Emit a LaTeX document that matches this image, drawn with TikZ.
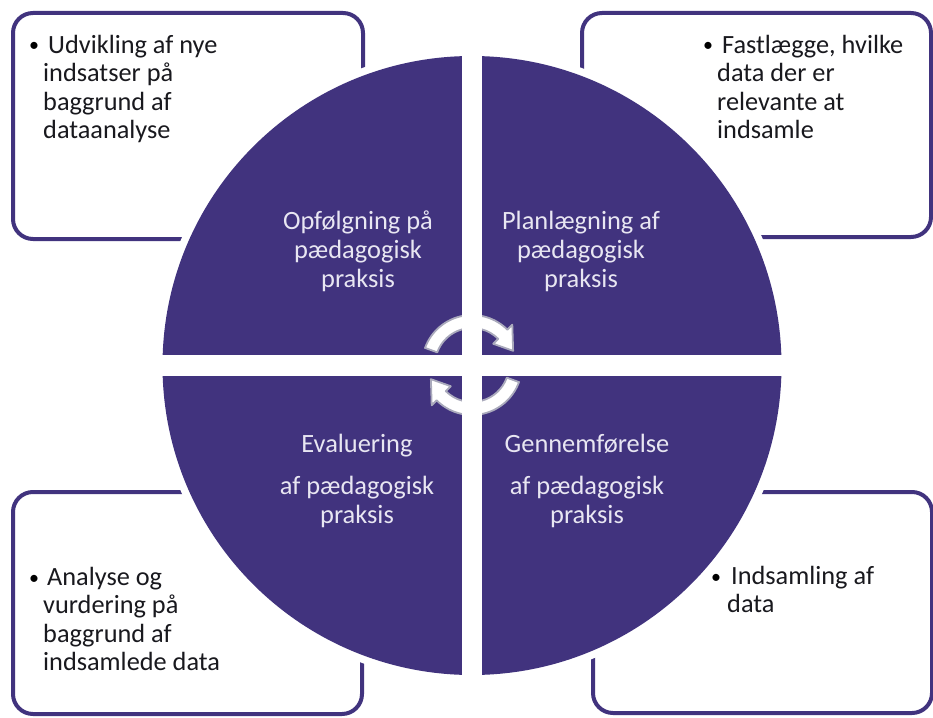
\documentclass[tikz,border=0pt]{standalone}
\usepackage{fontspec}
\setmainfont{Carlito}
\definecolor{purp}{RGB}{65,51,126}
\definecolor{qtext}{RGB}{232,230,242}
\definecolor{arrowline}{RGB}{170,170,188}
\definecolor{btxt}{RGB}{25,25,30}
\begin{document}
\begin{tikzpicture}[x=1pt,y=1pt,
  boxsty/.style={draw=purp, line width=4pt, rounded corners=20pt, fill=white},
  btext/.style={anchor=base west, inner sep=0pt, text=btxt, font=\fontsize{26.3}{29}\selectfont},
  bullet/.style={anchor=base, inner sep=0pt, text=black, font=\fontsize{20}{29}\selectfont},
  qtxt/.style={anchor=base, inner sep=0pt, text=qtext, font=\fontsize{26.4}{29}\selectfont},
  cyc/.style={fill=white, draw=arrowline, line width=1.8pt, line join=round}]
\useasboundingbox (0,0) rectangle (933,-717);
% boxes
\draw[boxsty] (13,-13) rectangle (363,-239);
\draw[boxsty] (582,-13) rectangle (931,-237);
\draw[boxsty] (13,-492) rectangle (362,-714);
\draw[boxsty] (593,-492) rectangle (932,-713);
% box texts
\node[bullet] (b1) at (34,-52) {•};
\node[btext] (t1a) at (48,-53) {Udvikling af nye};
\node[btext] (t1b) at (43,-81.5) {indsatser på};
\node[btext] (t1c) at (43,-110) {baggrund af};
\node[btext] (t1d) at (43,-138.5) {dataanalyse};
\node[bullet] (b2) at (708,-52) {•};
\node[btext] (t2a) at (722,-53) {Fastlægge, hvilke};
\node[btext] (t2b) at (717,-81.5) {data der er};
\node[btext] (t2c) at (717,-110) {relevante at};
\node[btext] (t2d) at (717,-138.5) {indsamle};
\node[bullet] (b3) at (34,-584) {•};
\node[btext] (t3a) at (47,-585) {Analyse og};
\node[btext] (t3b) at (43,-613.5) {vurdering på};
\node[btext] (t3c) at (43,-642) {baggrund af};
\node[btext] (t3d) at (43,-670.5) {indsamlede data};
\node[bullet] (b4) at (716,-583) {•};
\node[btext] (t4a) at (731,-584) {Indsamling af};
\node[btext] (t4b) at (727,-612.5) {data};
% circle
\fill[white] (472,-365.5) circle[radius=317];
\fill[purp] (472,-365.5) circle[radius=309.5];
% quadrant texts
\node[qtxt] (q1a) at (358,-229) {Opfølgning på};
\node[qtxt] (q1b) at (358,-258) {pædagogisk};
\node[qtxt] (q1c) at (358,-287) {praksis};
\node[qtxt] (q2a) at (581,-229) {Planlægning af};
\node[qtxt] (q2b) at (581,-258) {pædagogisk};
\node[qtxt] (q2c) at (581,-287) {praksis};
\node[qtxt] (q3a) at (357,-452) {Evaluering};
\node[qtxt] (q3b) at (357,-494) {af pædagogisk};
\node[qtxt] (q3c) at (357,-523) {praksis};
\node[qtxt] (q4a) at (587,-452) {Gennemførelse};
\node[qtxt] (q4b) at (587,-494) {af pædagogisk};
\node[qtxt] (q4c) at (587,-523) {praksis};
% cycle arrows
\begin{scope}[shift={(472,-365)}]
\draw[cyc] (160:50) arc[start angle=160, end angle=45, radius=50]
  -- (45:57) -- (19:43.5) -- (45:30) -- (45:37)
  arc[start angle=45, end angle=160, radius=37] -- cycle;
\draw[cyc] (-20:50) arc[start angle=-20, end angle=-135, radius=50]
  -- (-135:57) -- (-161:43.5) -- (-135:30) -- (-135:37)
  arc[start angle=-135, end angle=-20, radius=37] -- cycle;
\end{scope}
% white cross gaps
\fill[white] (462,-40) rectangle (482,-690);
\fill[white] (150,-355) rectangle (795,-376);
\end{tikzpicture}
\end{document}
